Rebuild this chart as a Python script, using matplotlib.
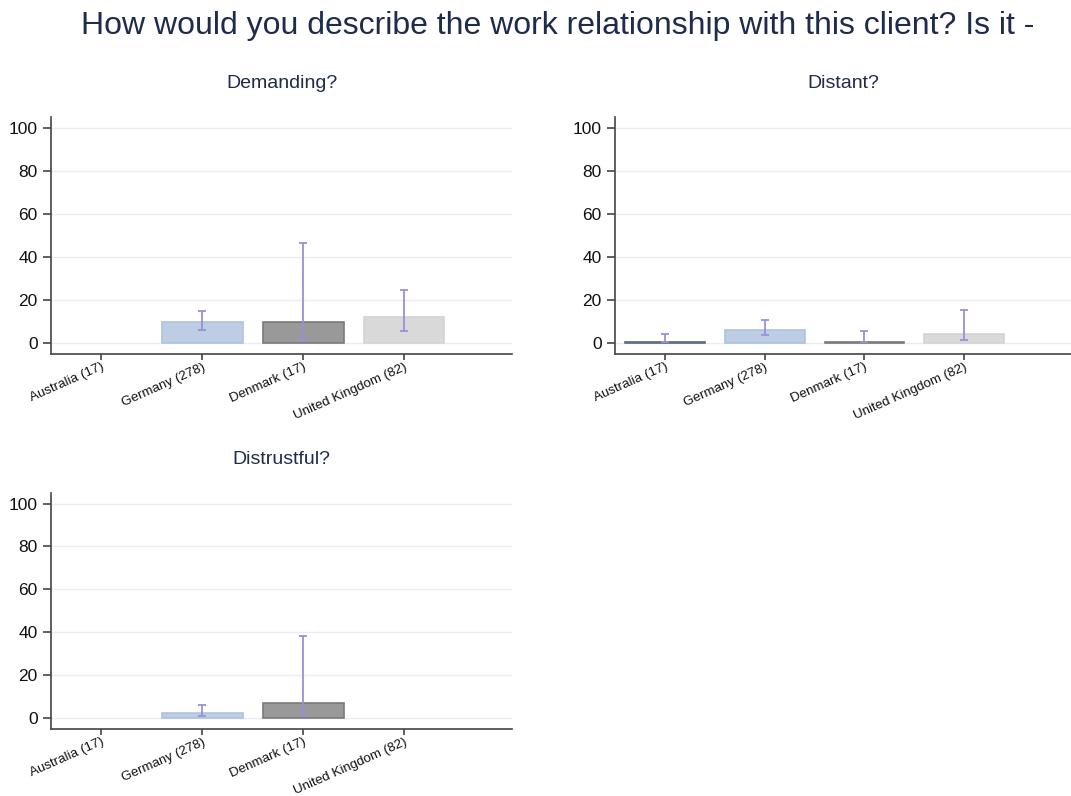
import matplotlib
matplotlib.use("Agg")
import matplotlib.pyplot as plt
import numpy as np

plt.rcParams['font.family'] = ['Liberation Sans', 'DejaVu Sans']

title = "How would you describe the work relationship with this client? Is it -"
countries = ["Australia (17)", "Germany (278)", "Denmark (17)", "United Kingdom (82)"]
panels = ["Demanding?", "Distant?", "Distrustful?"]

# values (percent), None = no bar
demanding = [None, 9.4, 9.8, 12.1]
demanding_lo = [None, 6.0, 1.3, 5.6]
demanding_hi = [None, 14.6, 46.3, 24.5]

distant = [0.5, 5.9, 0.5, 4.0]
distant_lo = [0.1, 3.4, 0.1, 1.1]
distant_hi = [4.2, 10.4, 5.3, 15.0]

distrustful = [None, 2.0, 6.8, None]
distrustful_lo = [None, 0.9, 1.1, None]
distrustful_hi = [None, 5.9, 38.3, None]

bar_colors = ["#6f7d96", "#bccde4", "#999999", "#d9d9d9"]
edge_colors = ["#5d6a80", "#aec2de", "#7a7a7a", "#d4d4d4"]
err_color = "#9a90d8"
navy = "#1e2b4c"

fig = plt.figure(figsize=(10.71, 7.96), dpi=100)
W, H = 1071, 796

def make_ax(left, top, right, bottom):
    return fig.add_axes([left / W, 1 - bottom / H, (right - left) / W, (bottom - top) / H])

axes_px = [(51, 117, 512, 354), (615, 117, 1071, 354), (51, 493, 512, 729)]
data = [(demanding, demanding_lo, demanding_hi),
        (distant, distant_lo, distant_hi),
        (distrustful, distrustful_lo, distrustful_hi)]

fig.text(558 / W, 1 - 26 / H, title, ha='center', va='center', fontsize=23, color=navy)

for (l, t, r, b), name, (vals, lo, hi) in zip(axes_px, panels, data):
    ax = make_ax(l, t, r, b)
    x = np.arange(len(countries))
    for i in range(len(countries)):
        if vals[i] is None:
            continue
        ax.bar(x[i], vals[i], width=0.8, color=bar_colors[i], edgecolor=edge_colors[i],
               linewidth=1.2, zorder=2)
        ax.errorbar(x[i], vals[i], yerr=[[vals[i] - lo[i]], [hi[i] - vals[i]]],
                    fmt='none', ecolor=err_color, elinewidth=1.3, capsize=3.2,
                    capthick=1.3, zorder=3)
    ax.set_xlim(-0.5, 4.07)
    ax.set_ylim(-5.3, 105)
    ax.set_yticks([0, 20, 40, 60, 80, 100])
    ax.set_yticklabels(["0", "20", "40", "60", "80", "100"], fontsize=12.5, color="#111111")
    ax.set_xticks(x)
    ax.set_xticklabels(countries, rotation=24, ha='right', rotation_mode='anchor',
                       fontsize=9.6, color="#111111")
    ax.grid(axis='y', color="#e6eef2", linewidth=1, zorder=0)
    for s in ['top', 'right']:
        ax.spines[s].set_visible(False)
    for s in ['left', 'bottom']:
        ax.spines[s].set_color("#444444")
        ax.spines[s].set_linewidth(1.2)
    ax.tick_params(axis='both', color="#444444", width=1.2, length=6)
    ax.tick_params(axis='x', length=4, pad=1)
    ax.set_title(name, fontsize=14, color=navy, pad=21)

fig.savefig("out.png", dpi=100)
